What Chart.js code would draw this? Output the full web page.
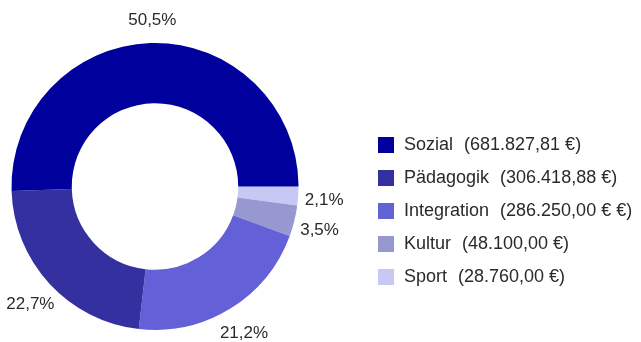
<!DOCTYPE html>
<html lang="de">
<head>
<meta charset="utf-8">
<title>Förderung nach Bereichen</title>
<script src="https://cdn.jsdelivr.net/npm/chart.js@4/dist/chart.umd.min.js"></script>
<style>
  html, body { margin: 0; padding: 0; background: #fff; }
  #wrap { position: relative; width: 641px; height: 342px; }
  #chart { position: absolute; left: 0; top: 0; }
  #legend {
    position: absolute; left: 378px; top: 128px;
    font-family: "Liberation Sans", Arial, sans-serif; font-size: 18px; color: #2a2a2a;
  }
  #legend .row { display: flex; align-items: center; height: 33px; }
  #legend .box { width: 16px; height: 16px; margin-right: 10px; flex: none; }
  #legend .amt { margin-left: 11px; }
</style>
</head>
<body>
<div id="wrap">
  <canvas id="chart" width="641" height="342"></canvas>
  <div id="legend"></div>
</div>
<script>
// Bereiche (legend order)
const categories = ["Sozial", "Pädagogik", "Integration", "Kultur", "Sport"];
// Anteil in Prozent
const shares = [50.5, 22.7, 21.2, 3.5, 2.1];
// Fördersumme as printed in the legend
const amounts = ["(681.827,81 €)", "(306.418,88 €)", "(286.250,00 € €)", "(48.100,00 €)", "(28.760,00 €)"];
const colors = ["#00009c", "#3430a0", "#6460d8", "#9898d0", "#c8c8f5"];

// The ring runs counter-clockwise from 3 o'clock; Chart.js turns clockwise,
// so the slices are fed in reverse order starting at 90°.
const order = categories.map((_, i) => i).reverse();

const pctFmt = v => v.toFixed(1).replace(".", ",") + "%";

const outsideLabels = {
  id: "outsideLabels",
  afterDatasetsDraw(chart) {
    const { ctx } = chart;
    const meta = chart.getDatasetMeta(0);
    ctx.save();
    ctx.font = "17px 'Liberation Sans', Arial, sans-serif";
    ctx.fillStyle = "#2a2a2a";
    ctx.textAlign = "center";
    ctx.textBaseline = "middle";
    meta.data.forEach((arc, i) => {
      const { x, y, startAngle, endAngle, outerRadius } = arc.getProps(["x", "y", "startAngle", "endAngle", "outerRadius"], true);
      const mid = (startAngle + endAngle) / 2;
      const r = outerRadius + 26;
      ctx.fillText(pctFmt(chart.data.datasets[0].data[i]), x + Math.cos(mid) * r, y + Math.sin(mid) * r + 3);
    });
    ctx.restore();
  }
};

new Chart(document.getElementById("chart"), {
  type: "doughnut",
  data: {
    labels: order.map(i => categories[i]),
    datasets: [{
      data: order.map(i => shares[i]),
      backgroundColor: order.map(i => colors[i]),
      borderWidth: 0
    }]
  },
  options: {
    responsive: false,
    animation: false,
    rotation: 90,
    cutout: "58%",
    layout: { padding: { left: 11.5, right: 342.5, top: 43, bottom: 12 } },
    plugins: {
      legend: { display: false },
      tooltip: { enabled: false }
    }
  },
  plugins: [outsideLabels]
});

// Legend
const legend = document.getElementById("legend");
categories.forEach((name, i) => {
  const row = document.createElement("div");
  row.className = "row";
  row.innerHTML = `<span class="box" style="background:${colors[i]}"></span><span>${name}</span><span class="amt">${amounts[i]}</span>`;
  legend.appendChild(row);
});
</script>
</body>
</html>
